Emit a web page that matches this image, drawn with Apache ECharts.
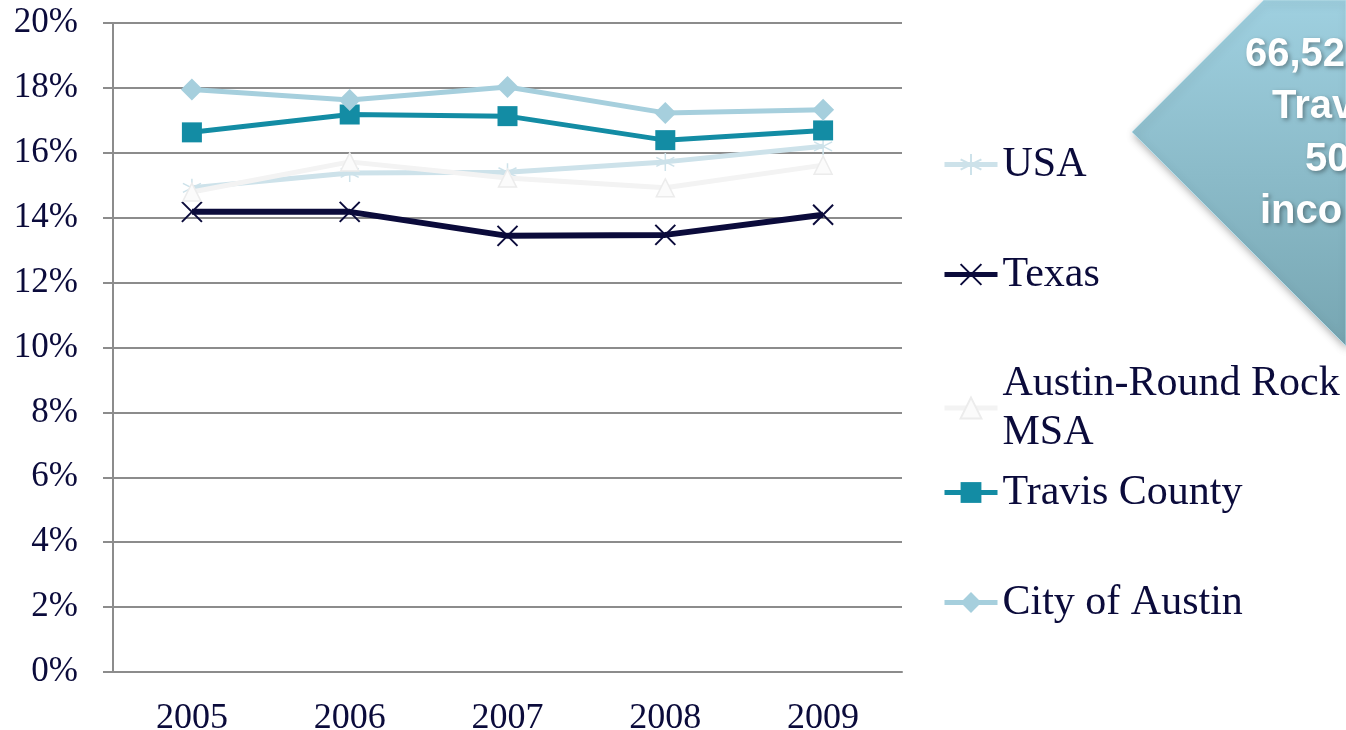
<!DOCTYPE html>
<html>
<head>
<meta charset="utf-8">
<script src="https://cdn.jsdelivr.net/npm/echarts@6/dist/echarts.min.js"></script>
<style>
  html, body { margin: 0; padding: 0; background: #ffffff; }
  #main { width: 1346px; height: 730px; }
</style>
</head>
<body>
<div id="main"></div>
<script>
// data (percent)
var years = ['2005', '2006', '2007', '2008', '2009'];
var usa = [14.92, 15.38, 15.40, 15.72, 16.20];
var texas = [14.18, 14.18, 13.44, 13.47, 14.09];
var msa = [14.79, 15.72, 15.22, 14.92, 15.62];
var travis = [16.63, 17.18, 17.13, 16.39, 16.69];
var cityAustin = [17.95, 17.63, 18.03, 17.23, 17.33];
var yTicks = [0, 2, 4, 6, 8, 10, 12, 14, 16, 18, 20];
var boxLines = ['66,52', 'Trav', '50', 'inco']; // visible part of the callout text

var navy = '#0b0b3b';
var serif = '"Liberation Serif", "Times New Roman", serif';

var chartDom = document.getElementById('main');
var myChart = echarts.init(chartDom);

// one small legend per item so each sits where it does in the picture
function legendAt(name, top) {
    return {
        data: [name],
        left: 937,
        top: top,
        orient: 'vertical',
        itemWidth: 53,
        itemHeight: 26,
        itemGap: 0,
        lineStyle: { width: 5 },
        textStyle: { fontFamily: serif, fontSize: 42, color: navy, lineHeight: 49 },
        selectedMode: false
    };
}

function makeSeries(name, data, lineColor, symbol, size, itemStyle, z, width) {
    return {
        name: name,
        type: 'line',
        data: data,
        symbol: symbol,
        symbolSize: size,
        lineStyle: { color: lineColor, width: width || 5 },
        itemStyle: itemStyle,
        z: z,
        animation: false
    };
}

// callout text lines, positioned by hand
var boxX = [1245, 1272, 1305, 1260];
var boxY = [55, 107, 160, 212];
var boxTexts = boxLines.map(function (t, i) {
    return {
        type: 'text',
        x: boxX[i],
        y: boxY[i],
        z: 10,
        style: {
            text: t,
            font: 'bold 40px "Liberation Sans", Arial, sans-serif',
            fill: '#ffffff',
            verticalAlign: 'middle',
            textShadowBlur: 4,
            textShadowOffsetX: 2,
            textShadowOffsetY: 2,
            textShadowColor: 'rgba(0,0,0,0.35)'
        }
    };
});

var option = {
    backgroundColor: '#ffffff',
    grid: { left: 113, right: 444, top: 23, bottom: 58, outerBoundsMode: 'none', containLabel: false },
    legend: [
        legendAt('USA', 135),
        legendAt('Texas', 245),
        legendAt('Austin-Round Rock\nMSA', 354),
        legendAt('Travis County', 463),
        legendAt('City of Austin', 573)
    ],
    xAxis: {
        type: 'category',
        data: years,
        boundaryGap: true,
        axisLine: { lineStyle: { color: '#8c8c8c', width: 2 } },
        axisTick: { show: false },
        axisLabel: { fontFamily: serif, fontSize: 36, color: navy, margin: 29 }
    },
    yAxis: {
        type: 'value',
        min: yTicks[0],
        max: yTicks[yTicks.length - 1],
        interval: 2,
        axisLine: { show: true, lineStyle: { color: '#8c8c8c', width: 2 } },
        axisTick: { show: true, length: 10, lineStyle: { color: '#8c8c8c', width: 2 } },
        splitLine: { lineStyle: { color: '#8c8c8c', width: 2 } },
        axisLabel: {
            fontFamily: serif, fontSize: 35, color: navy, margin: 35,
            formatter: function (v) { return v + '%'; }
        }
    },
    series: [
        makeSeries('USA', usa, '#cde2ea',
            'path://M5,0L5,10M0.7,2.5L9.3,7.5M0.7,7.5L9.3,2.5', 18,
            { color: 'rgba(0,0,0,0)', borderColor: '#cde2ea', borderWidth: 1.5 }, 2),
        makeSeries('Texas', texas, navy,
            'path://M0,0L10,10M10,0L0,10', 20,
            { color: 'rgba(0,0,0,0)', borderColor: navy, borderWidth: 2 }, 3, 6),
        makeSeries('Austin-Round Rock\nMSA', msa, '#f3f3f3',
            'triangle', 18,
            { color: '#fbfbfb', borderColor: '#ececec', borderWidth: 1.5 }, 4),
        makeSeries('Travis County', travis, '#138ca4',
            'rect', 20,
            { color: '#138ca4' }, 5),
        makeSeries('City of Austin', cityAustin, '#a6cfdd',
            'diamond', 22,
            { color: '#a6cfdd' }, 6)
    ],
    graphic: [
        {
            type: 'polygon',
            shape: { points: [[1132, 132], [1264, 0], [1346, 0], [1346, 346]] },
            style: {
                fill: {
                    type: 'linear', x: 0, y: 0, x2: 0, y2: 1,
                    colorStops: [
                        { offset: 0, color: '#9fd0e0' },
                        { offset: 1, color: '#77a6b2' }
                    ]
                },
                stroke: '#b8dde8',
                lineWidth: 1,
                shadowBlur: 8,
                shadowOffsetX: 2,
                shadowOffsetY: 3,
                shadowColor: 'rgba(0,0,0,0.35)'
            },
            z: 1
        }
    ].concat(boxTexts)
};

myChart.setOption(option);
</script>
</body>
</html>
